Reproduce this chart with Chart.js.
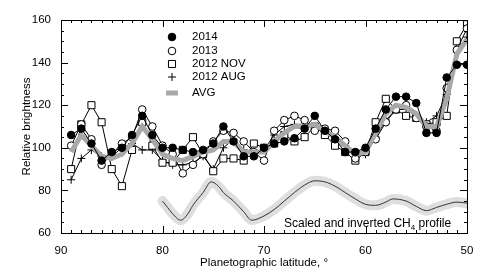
<!DOCTYPE html>
<html>
<head>
<meta charset="utf-8">
<script src="https://cdn.jsdelivr.net/npm/chart.js@4"></script>
<style>
  body { margin: 0; background: #fff; }
</style>
</head>
<body>
<canvas id="brightnessChart" width="485" height="277"></canvas>
<script>
// planetographic latitude of each measurement, degrees
const latitudes = [89, 88, 87, 86, 85, 84, 83, 82, 81, 80,
                   79, 78, 77, 76, 75, 74, 73, 72, 71, 70,
                   69, 68, 67, 66, 65, 64, 63, 62, 61, 60,
                   59, 58, 57, 56, 55, 54, 53, 52, 51, 50];

const bright2014 = [106, 109, 102, 94, 98, 100, 106, 115, 106, 100,
                    100, 99, 98, 99, 102, 110, 103, 96, 96, 100,
                    102, 103, 104.5, 109, 115, 108, 104, 98, 98, 100,
                    109, 118, 124, 124, 121, 107, 107, 133, 139, 139];

const bright2013 = [101, 111, 104, 92, 97, 102, 105, 118, 110, 101,
                    97, 88, 92, 97, 103, 108, 107, 103, 98, 94,
                    108, 113, 115, 113, 108, 109, 108, 103, 95, 98,
                    104, 112, 118, 120, 114, 110, 108, 128, 146, 156];

const bright2012Nov = [90, 111, 120, 112, 90, 82, 99, 112, 101, 93,
                       93, 99, 105, 97, 89, 95, 95, 94, 102, 100,
                       102, 106, 103, 105, 110, 106, 101, 98, 94, 98,
                       112, 123, 118, 115, 114, 111, 112, 115, 150, 158];

const bright2012Aug = [85, 95, 99, 96, 96, 100, 102, 99, 99, 94,
                       92, 92, 93, 96, 90, 100, 104, 99, 97, 99,
                       106, 110, 111, 111, 110, 107, 104, 101, 97, 97,
                       105, 113, 118, 118, 115, 112, 115, 125, 145, 152];

const brightAvg = [98, 106, 101, 96, 95, 97, 102, 110, 104, 97,
                   95, 94, 96, 98, 99, 103, 103, 98, 98, 98,
                   103, 107, 110, 110, 111, 108, 105, 101, 97, 98,
                   107, 116, 120, 119, 116, 110, 110, 123, 144, 151];

// scaled and inverted CH4 profile
const ch4Latitudes = [80, 79.5, 79, 78.2, 77.5, 77, 76, 75.2, 74.5, 74,
                      73, 72, 71.2, 70, 69, 68, 67, 66, 65, 64,
                      63, 62, 61, 60, 59, 58, 57.3, 56, 55, 54,
                      53, 52, 51, 50];
const ch4Profile = [75, 72, 69, 66, 69, 73, 79, 84, 82, 79,
                    75, 70, 66, 68, 71, 75, 79, 82.5, 84.5, 84,
                    82, 79, 76, 73.5, 73, 74.5, 76, 75, 72.5, 70.5,
                    72, 73.5, 74.5, 74];

const xTicks = [90, 80, 70, 60, 50];
const yTicks = [60, 80, 100, 120, 140, 160];

const FONT = 'Liberation Sans, Arial, Helvetica, sans-serif';

const toPoints = (xs, ys) => xs.map((x, i) => ({ x: x, y: ys[i] }));

const ch4Band = {
    label: 'CH4 band',
    data: toPoints(ch4Latitudes, ch4Profile),
    borderColor: '#dedede',
    borderWidth: 10,
    pointRadius: 0,
    tension: 0.4,
    cubicInterpolationMode: 'monotone',
    borderCapStyle: 'round'
};
const ch4Line = {
    label: 'CH4 profile',
    data: toPoints(ch4Latitudes, ch4Profile),
    borderColor: '#333',
    borderWidth: 1,
    pointRadius: 0,
    tension: 0.4,
    cubicInterpolationMode: 'monotone'
};

function series(label, values, style, fill, radius) {
    return {
        label: label,
        data: toPoints(latitudes, values),
        borderColor: '#000',
        borderWidth: 1,
        pointStyle: style,
        pointRadius: radius,
        pointBackgroundColor: fill,
        pointBorderColor: '#000',
        pointBorderWidth: 1,
        tension: 0
    };
}

const dsAug = series('2012 AUG', bright2012Aug, 'cross', '#000', 4);
const dsNov = series('2012 NOV', bright2012Nov, 'rect', '#fff', 5);
const ds2013 = series('2013', bright2013, 'circle', '#fff', 3.8);
const dsAvg = {
    label: 'AVG',
    data: toPoints(latitudes, brightAvg),
    borderColor: '#a8a8a8',
    borderWidth: 5,
    pointRadius: 0,
    tension: 0
};
const ds2014 = series('2014', bright2014, 'circle', '#000', 3.8);

const legendOrder = [ds2014, ds2013, dsNov, dsAug, dsAvg];

// frame, inward ticks, legend and profile label
const decorations = {
    id: 'decorations',
    afterDatasetsDraw(chart) {
        const ctx = chart.ctx;
        const { left, right, top, bottom } = chart.chartArea;
        const xs = chart.scales.x, ys = chart.scales.y;
        ctx.save();
        ctx.strokeStyle = '#000';
        ctx.lineWidth = 1;
        ctx.strokeRect(Math.round(left) + 0.5, Math.round(top) + 0.5,
                       Math.round(right - left), Math.round(bottom - top));
        ctx.beginPath();
        for (let v = 50; v <= 90; v++) {
            const px = Math.round(xs.getPixelForValue(v)) + 0.5;
            const len = v % 10 === 0 ? 7 : 3;
            ctx.moveTo(px, bottom); ctx.lineTo(px, bottom - len);
            ctx.moveTo(px, top); ctx.lineTo(px, top + len);
        }
        for (let v = 60; v <= 160; v += 5) {
            const py = Math.round(ys.getPixelForValue(v)) + 0.5;
            const len = v % 20 === 0 ? 7 : 3;
            ctx.moveTo(left, py); ctx.lineTo(left + len, py);
            ctx.moveTo(right, py); ctx.lineTo(right - len, py);
        }
        ctx.stroke();

        // legend
        const mx = 172, tx = 192;
        const rows = [37, 51, 64, 77, 93];
        ctx.font = '11.5px ' + FONT;
        ctx.textBaseline = 'middle';
        legendOrder.forEach((ds, i) => {
            const y = rows[i];
            if (ds === dsAvg) {
                ctx.strokeStyle = ds.borderColor;
                ctx.lineWidth = 5;
                ctx.beginPath();
                ctx.moveTo(mx - 6, y); ctx.lineTo(mx + 6, y);
                ctx.stroke();
            } else {
                ctx.fillStyle = ds.pointBackgroundColor;
                ctx.strokeStyle = '#000';
                ctx.lineWidth = 1;
                Chart.helpers.drawPoint(ctx, {
                    pointStyle: ds.pointStyle,
                    radius: ds.pointRadius,
                    borderWidth: 1
                }, mx, y);
            }
            ctx.fillStyle = '#000';
            ctx.fillText(ds.label, tx, y);
        });

        // profile label with subscript
        ctx.fillStyle = '#000';
        ctx.font = '12px ' + FONT;
        ctx.textBaseline = 'alphabetic';
        let x = 284;
        const y = 227;
        const a = 'Scaled and inverted CH';
        ctx.fillText(a, x, y);
        x += ctx.measureText(a).width;
        ctx.font = '8px ' + FONT;
        ctx.fillText('4', x, y + 3);
        x += ctx.measureText('4').width;
        ctx.font = '12px ' + FONT;
        ctx.fillText(' profile', x, y);
        ctx.restore();
    }
};

new Chart(document.getElementById('brightnessChart'), {
    type: 'line',
    data: {
        // first dataset is drawn on top
        datasets: [ds2014, dsAvg, ds2013, dsNov, dsAug, ch4Line, ch4Band]
    },
    options: {
        responsive: false,
        animation: false,
        devicePixelRatio: 1,
        layout: { padding: { left: 0, right: 18, top: 20, bottom: 0 } },
        plugins: {
            legend: { display: false },
            tooltip: { enabled: false }
        },
        scales: {
            x: {
                type: 'linear',
                reverse: true,
                min: 50,
                max: 90,
                afterFit: s => { s.height = 44; },
                afterBuildTicks: s => { s.ticks = xTicks.map(v => ({ value: v })); },
                grid: { display: false, drawTicks: false },
                border: { display: false },
                ticks: {
                    padding: 11,
                    color: '#000',
                    font: { family: FONT, size: 11.5 }
                },
                title: {
                    display: true,
                    text: 'Planetographic latitude, °',
                    color: '#000',
                    font: { family: FONT, size: 11.5 },
                    padding: { top: 0, bottom: 7 }
                }
            },
            y: {
                min: 60,
                max: 160,
                afterFit: s => { s.width = 61; },
                afterBuildTicks: s => { s.ticks = yTicks.map(v => ({ value: v })); },
                grid: { display: false, drawTicks: false },
                border: { display: false },
                ticks: {
                    padding: 10,
                    color: '#000',
                    font: { family: FONT, size: 11.5 }
                },
                title: {
                    display: true,
                    text: 'Relative brightness',
                    color: '#000',
                    font: { family: FONT, size: 11.5 },
                    padding: { top: 20, bottom: 0 }
                }
            }
        }
    },
    plugins: [decorations]
});
</script>
</body>
</html>
